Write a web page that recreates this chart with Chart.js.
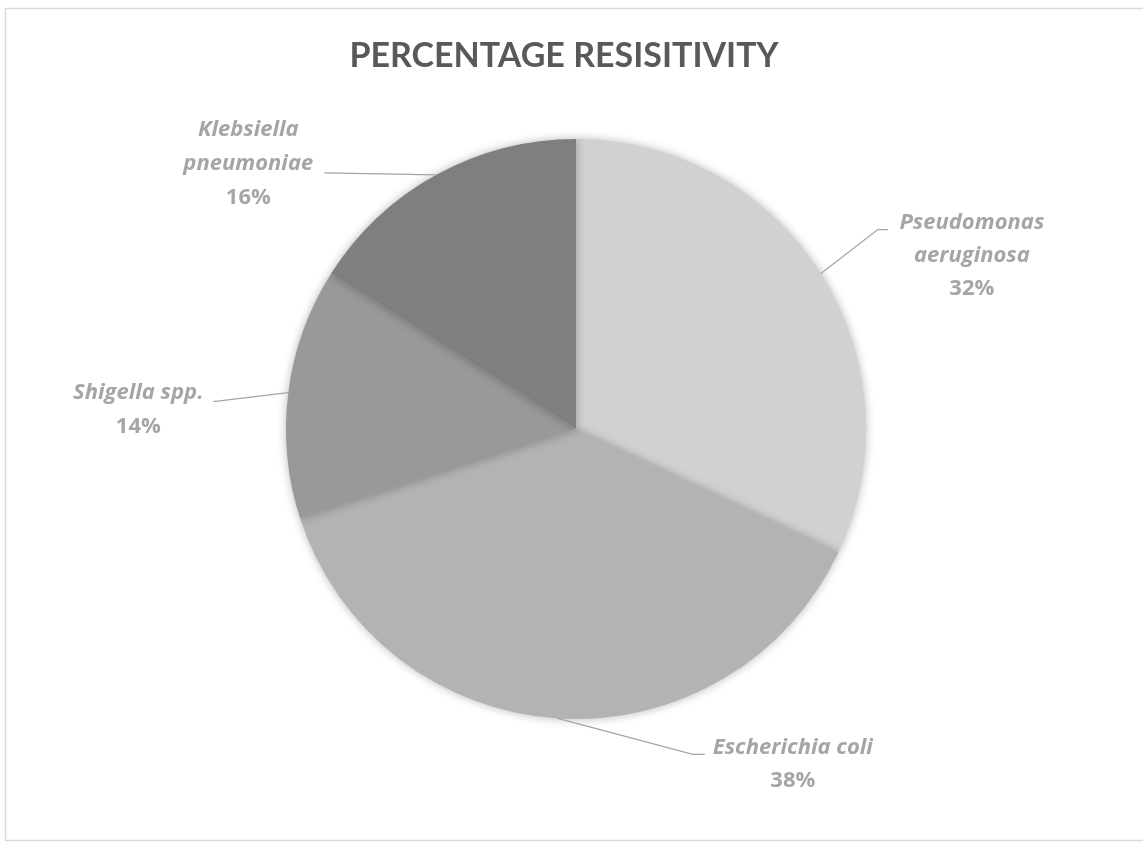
<!DOCTYPE html>
<html>
<head>
<meta charset="utf-8">
<script src="https://cdn.jsdelivr.net/npm/chart.js@4.4.0/dist/chart.umd.min.js"></script>
<style>
    html, body { margin: 0; padding: 0; background: #fff; }
    #wrap { width: 1143px; height: 846px; position: relative; }
</style>
</head>
<body>
<div id="wrap"><canvas id="pie"></canvas></div>
<script>
const chartTitle = 'PERCENTAGE RESISITIVITY';
const species = ['Pseudomonas aeruginosa', 'Escherichia coli', 'Shigella spp.', 'Klebsiella pneumoniae'];
const speciesLines = [['Pseudomonas', 'aeruginosa'], ['Escherichia coli'], ['Shigella spp.'], ['Klebsiella', 'pneumoniae']];
const percentages = [32, 38, 14, 16];
const sliceColors = ['#d1d1d1', '#b3b3b3', '#999999', '#7f7f7f'];

// label placement relative to the point where the leader line leaves the slice
// line: leader line points, text: centre of first text line, lh: line height
const labelLayout = [
    {line: [[57, -44], [67, -44]], text: [151, -51], lh: 33},
    {line: [[135, 36], [147, 36]], text: [235, 29], lh: 33},
    {line: [[-75, 9]], text: [-150, 0], lh: 34},
    {line: [[-112, -2]], text: [-188, -45], lh: 34},
];

const titleFont = '"Lato", "Open Sans", sans-serif';
const labelFont = '"Open Sans", "Lato", sans-serif';
const labelColor = '#a5a5a5';

const frameAndTitle = {
    id: 'frameAndTitle',
    beforeDraw(chart) {
        const ctx = chart.ctx;
        ctx.save();
        ctx.fillStyle = '#fff';
        ctx.fillRect(0, 0, chart.width, chart.height);
        ctx.strokeStyle = '#d9d9d9';
        ctx.lineWidth = 1.5;
        ctx.strokeRect(5.5, 8.5, chart.width + 10, 832);
        ctx.fillStyle = '#595959';
        ctx.font = 'bold 34px ' + titleFont;
        ctx.textAlign = 'center';
        ctx.textBaseline = 'middle';
        ctx.fillText(chartTitle, 564, 56);
        ctx.restore();
    }
};

const pieShadow = {
    id: 'pieShadow',
    beforeDatasetsDraw(chart) {
        const ctx = chart.ctx;
        ctx.save();
        ctx.shadowColor = 'rgba(0,0,0,0.28)';
        ctx.shadowBlur = 10;
        ctx.shadowOffsetX = 0;
        ctx.shadowOffsetY = 0;
    },
    afterDatasetsDraw(chart) {
        chart.ctx.restore();
    }
};

const leaderLabels = {
    id: 'leaderLabels',
    afterDraw(chart) {
        const ctx = chart.ctx;
        const meta = chart.getDatasetMeta(0);
        const total = percentages.reduce((a, b) => a + b, 0);
        meta.data.forEach((arc, i) => {
            const p = arc.getProps(['x', 'y', 'startAngle', 'endAngle', 'outerRadius'], true);
            const mid = (p.startAngle + p.endAngle) / 2;
            const ex = p.x + Math.cos(mid) * p.outerRadius;
            const ey = p.y + Math.sin(mid) * p.outerRadius;
            const lay = labelLayout[i];

            ctx.save();
            ctx.strokeStyle = labelColor;
            ctx.lineWidth = 1.3;
            ctx.beginPath();
            ctx.moveTo(ex, ey);
            lay.line.forEach(pt => ctx.lineTo(ex + pt[0], ey + pt[1]));
            ctx.stroke();

            ctx.fillStyle = labelColor;
            ctx.textAlign = 'center';
            ctx.textBaseline = 'middle';
            const tx = ex + lay.text[0];
            let ty = ey + lay.text[1];
            ctx.font = 'italic bold 22px ' + labelFont;
            speciesLines[i].forEach(s => {
                ctx.fillText(s, tx, ty);
                ty += lay.lh;
            });
            ctx.font = 'bold 22px ' + labelFont;
            ctx.fillText(Math.round(percentages[i] / total * 100) + '%', tx, ty);
            ctx.restore();
        });
    }
};

new Chart(document.getElementById('pie'), {
    type: 'pie',
    data: {
        labels: species,
        datasets: [{
            data: percentages,
            backgroundColor: sliceColors,
            borderWidth: 0,
        }]
    },
    options: {
        responsive: true,
        maintainAspectRatio: false,
        animation: false,
        layout: {
            padding: {left: 286, right: 277, top: 139, bottom: 127}
        },
        plugins: {
            legend: {display: false},
            title: {display: false},
            tooltip: {enabled: false},
        }
    },
    plugins: [frameAndTitle, pieShadow, leaderLabels]
});
</script>
</body>
</html>
